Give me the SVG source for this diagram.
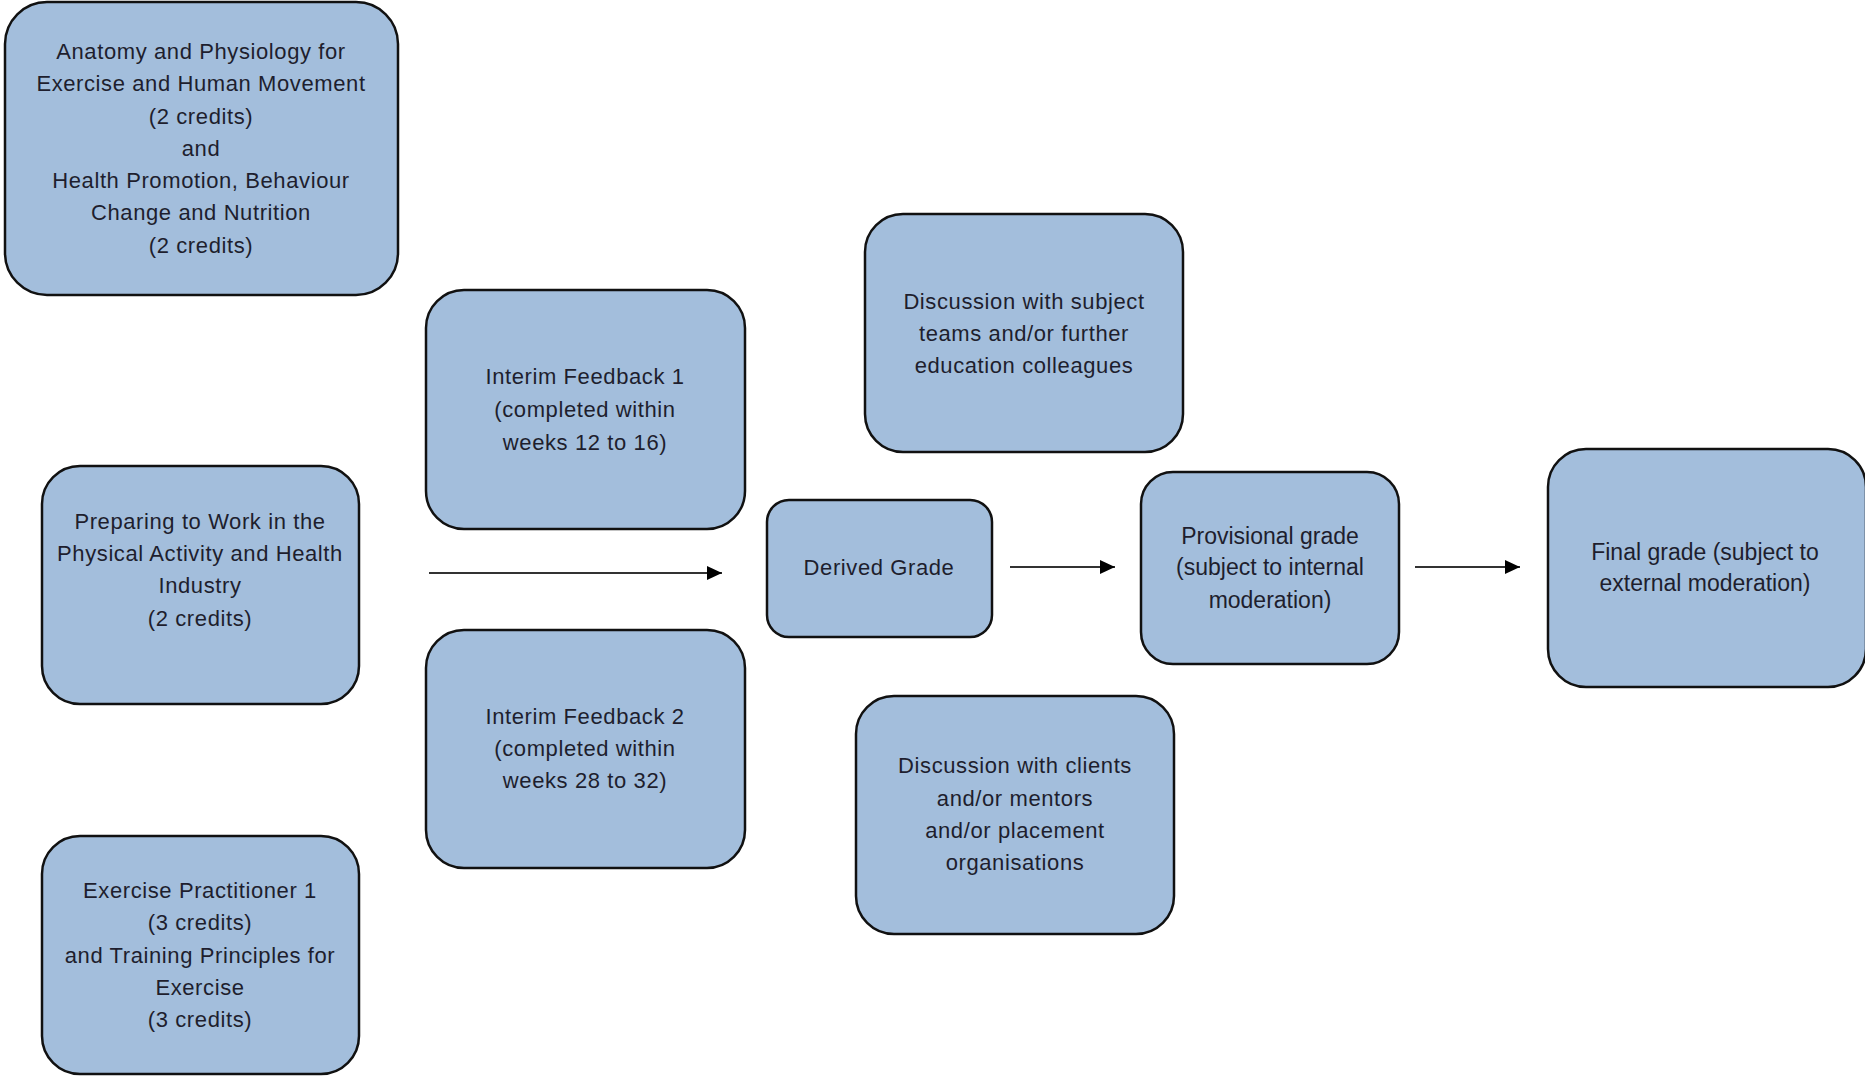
<svg xmlns="http://www.w3.org/2000/svg" width="1865" height="1077" viewBox="0 0 1865 1077">
<style>
.box{fill:#A3BEDC;stroke:#111;stroke-width:2.5}
.t{font-family:"Liberation Sans",Arial,sans-serif;font-size:22px;letter-spacing:0.6px;fill:#1E1E2E;text-anchor:middle}
.n{font-family:"Liberation Sans",Arial,sans-serif;font-size:23px;fill:#1E1E2E;text-anchor:middle}
.c{stroke:#333;stroke-width:2;fill:none}
</style>
<defs>
<marker id="ah" markerWidth="10" markerHeight="10" refX="9" refY="5" orient="auto" markerUnits="userSpaceOnUse" viewBox="0 0 10 10">
<path d="M0,0 L10,5 L0,10 Z" fill="#000"/>
</marker>
<marker id="ah2" viewBox="0 0 10 10" refX="10" refY="5" markerWidth="15" markerHeight="14" orient="auto" markerUnits="userSpaceOnUse" preserveAspectRatio="none">
<path d="M0,0 L10,5 L0,10 Z" fill="#000"/>
</marker>
</defs>
<rect width="1865" height="1077" fill="#fff"/>
<g id="connectors">
<line class="c" x1="429" y1="573" x2="722" y2="573" marker-end="url(#ah2)"/>
<line class="c" x1="1010" y1="567" x2="1115" y2="567" marker-end="url(#ah2)"/>
<line class="c" x1="1415" y1="567" x2="1520" y2="567" marker-end="url(#ah2)"/>
</g>
<g id="anatomy">
<rect class="box" x="5" y="2" width="393" height="293" rx="42"/>
<text class="t"><tspan x="201" y="59">Anatomy and Physiology for</tspan><tspan x="201" y="91">Exercise and Human Movement</tspan><tspan x="201" y="124">(2 credits)</tspan><tspan x="201" y="156">and</tspan><tspan x="201" y="188">Health Promotion, Behaviour</tspan><tspan x="201" y="220">Change and Nutrition</tspan><tspan x="201" y="253">(2 credits)</tspan></text>
</g>
<g id="preparing">
<rect class="box" x="42" y="466" width="317" height="238" rx="38"/>
<text class="t"><tspan x="200" y="529">Preparing to Work in the</tspan><tspan x="200" y="561">Physical Activity and Health</tspan><tspan x="200" y="593">Industry</tspan><tspan x="200" y="626">(2 credits)</tspan></text>
</g>
<g id="exercise">
<rect class="box" x="42" y="836" width="317" height="238" rx="38"/>
<text class="t"><tspan x="200" y="898">Exercise Practitioner 1</tspan><tspan x="200" y="930">(3 credits)</tspan><tspan x="200" y="963">and Training Principles for</tspan><tspan x="200" y="995">Exercise</tspan><tspan x="200" y="1027">(3 credits)</tspan></text>
</g>
<g id="interim1">
<rect class="box" x="426" y="290" width="319" height="239" rx="38"/>
<text class="t"><tspan x="585" y="384">Interim Feedback 1</tspan><tspan x="585" y="417">(completed within</tspan><tspan x="585" y="450">weeks 12 to 16)</tspan></text>
</g>
<g id="interim2">
<rect class="box" x="426" y="630" width="319" height="238" rx="38"/>
<text class="t"><tspan x="585" y="724">Interim Feedback 2</tspan><tspan x="585" y="756">(completed within</tspan><tspan x="585" y="788">weeks 28 to 32)</tspan></text>
</g>
<g id="derived">
<rect class="box" x="767" y="500" width="225" height="137" rx="22"/>
<text class="t"><tspan x="879" y="575">Derived Grade</tspan></text>
</g>
<g id="discussion1">
<rect class="box" x="865" y="214" width="318" height="238" rx="38"/>
<text class="t"><tspan x="1024" y="309">Discussion with subject</tspan><tspan x="1024" y="341">teams and/or further</tspan><tspan x="1024" y="373">education colleagues</tspan></text>
</g>
<g id="discussion2">
<rect class="box" x="856" y="696" width="318" height="238" rx="38"/>
<text class="t"><tspan x="1015" y="773">Discussion with clients</tspan><tspan x="1015" y="806">and/or mentors</tspan><tspan x="1015" y="838">and/or placement</tspan><tspan x="1015" y="870">organisations</tspan></text>
</g>
<g id="provisional">
<rect class="box" x="1141" y="472" width="258" height="192" rx="32"/>
<text class="n"><tspan x="1270" y="544">Provisional grade</tspan><tspan x="1270" y="575">(subject to internal</tspan><tspan x="1270" y="608">moderation)</tspan></text>
</g>
<g id="final">
<rect class="box" x="1548" y="449" width="318" height="238" rx="38"/>
<text class="n"><tspan x="1705" y="560">Final grade (subject to</tspan><tspan x="1705" y="591">external moderation)</tspan></text>
</g>
</svg>
